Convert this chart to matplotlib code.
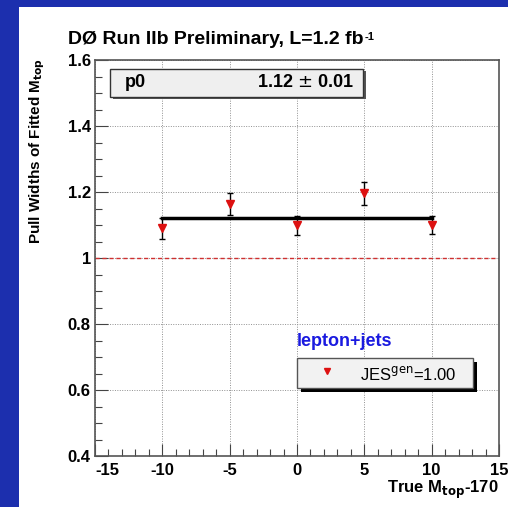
import matplotlib.pyplot as plt
from matplotlib.patches import Rectangle
from matplotlib.ticker import MultipleLocator

plt.rcParams['font.family'] = ['Liberation Sans', 'DejaVu Sans']

# data
mass_shift = [-10, -5, 0, 5, 10]
pull_width = [1.09, 1.164, 1.099, 1.196, 1.10]
pull_err = [0.032, 0.033, 0.028, 0.034, 0.026]
fit_p0 = 1.12
fit_p0_err = 0.01

fig = plt.figure(figsize=(5.08, 5.07), dpi=100)
fig.patch.set_facecolor('#1c2fae')
fig.patches.append(Rectangle((19 / 508, 0), 1, 1 - 7 / 507, transform=fig.transFigure,
                             facecolor='white', edgecolor='none', zorder=-1))

ax = fig.add_axes([95 / 508, 1 - 456 / 507, 404 / 508, 396 / 507])
ax.set_xlim(-15, 15)
ax.set_ylim(0.4, 1.6)

ax.xaxis.set_major_locator(MultipleLocator(5))
ax.xaxis.set_minor_locator(MultipleLocator(1))
ax.yaxis.set_major_locator(MultipleLocator(0.2))
ax.yaxis.set_minor_locator(MultipleLocator(0.05))
ax.tick_params(which='both', direction='in', top=False, right=False, color='#444444')
ax.tick_params(which='major', length=9, width=0.8)
ax.tick_params(which='minor', length=5, width=0.8)
ax.tick_params(axis='x', pad=5)
ax.tick_params(axis='y', pad=3)
ax.grid(True, which='major', linestyle=(0, (1, 1.5)), color='#909090', linewidth=0.7)
for s in ax.spines.values():
    s.set_color('#555555')
    s.set_linewidth(1.2)

ax.set_xticks([-15, -10, -5, 0, 5, 10, 15])
ax.set_xticklabels(['-15', '-10', '-5', '0', '5', '10', '15'], fontsize=12, fontweight='bold')
ax.set_yticks([0.4, 0.6, 0.8, 1.0, 1.2, 1.4, 1.6])
ax.set_yticklabels(['0.4', '0.6', '0.8', '1', '1.2', '1.4', '1.6'], fontsize=12, fontweight='bold')
ax.get_xticklabels()[0].set_horizontalalignment('left')

ax.axhline(1.0, color='#d03030', linestyle=(0, (3, 2)), linewidth=1.0, zorder=2)

ax.plot([mass_shift[0], mass_shift[-1]], [fit_p0, fit_p0], color='black', linewidth=2.5, zorder=3)
ax.errorbar(mass_shift, pull_width, yerr=pull_err, fmt='v', color='#dd1111', markersize=6,
            ecolor='black', elinewidth=1.0, capsize=2, zorder=4)

# stat box
ax.add_patch(Rectangle((0.044, 0.902), 0.626, 0.07, transform=ax.transAxes,
                       facecolor='#555555', edgecolor='none', zorder=5))
ax.add_patch(Rectangle((0.037, 0.907), 0.626, 0.07, transform=ax.transAxes,
                       facecolor='#efefef', edgecolor='#333333', linewidth=1, zorder=6))
ax.text(0.075, 0.942, 'p0', transform=ax.transAxes, fontsize=13, fontweight='bold',
        va='center', zorder=7)
ax.text(0.64, 0.942, '%.2f $\\pm$ %.2f' % (fit_p0, fit_p0_err), transform=ax.transAxes,
        fontsize=13, fontweight='bold', va='center', ha='right', zorder=7)

# legend
ax.text(0.5, 0.29, 'lepton+jets', transform=ax.transAxes, fontsize=13, fontweight='bold',
        color='#1a1ae0', va='center')
ax.add_patch(Rectangle((0.51, 0.162), 0.436, 0.076, transform=ax.transAxes,
                       facecolor='black', edgecolor='none', zorder=5))
ax.add_patch(Rectangle((0.5, 0.172), 0.436, 0.076, transform=ax.transAxes,
                       facecolor='#f2f2f2', edgecolor='#555555', linewidth=1, zorder=6))
ax.plot([0.575], [0.214], 'v', color='#dd1111', markersize=4, transform=ax.transAxes, zorder=7)
ax.text(0.655, 0.206, 'JES$^{\\rm gen}$=1.00', transform=ax.transAxes, fontsize=12,
        va='center', zorder=7)

title = fig.text(68 / 508, 1 - 40 / 507, 'DØ Run IIb Preliminary, L=1.2 fb',
                 fontsize=14, fontweight='bold', va='center', ha='left')
fig.add_artist(plt.Annotation('-1', xy=(1.0, 0.95), xycoords=title, xytext=(0.5, 0),
                              textcoords='offset points', fontsize=8, fontweight='bold',
                              va='top', ha='left'))
fig.text(37 / 508, 1 - 58 / 507, 'Pull Widths of Fitted M$_{\\mathbf{top}}$', rotation=90,
         fontsize=11, fontweight='bold', va='top', ha='center')
fig.text(499 / 508, 1 - 490 / 507, 'True M$_{\\mathbf{top}}$-170', fontsize=12, fontweight='bold',
         va='center', ha='right')

fig.savefig('out.png', dpi=100)
